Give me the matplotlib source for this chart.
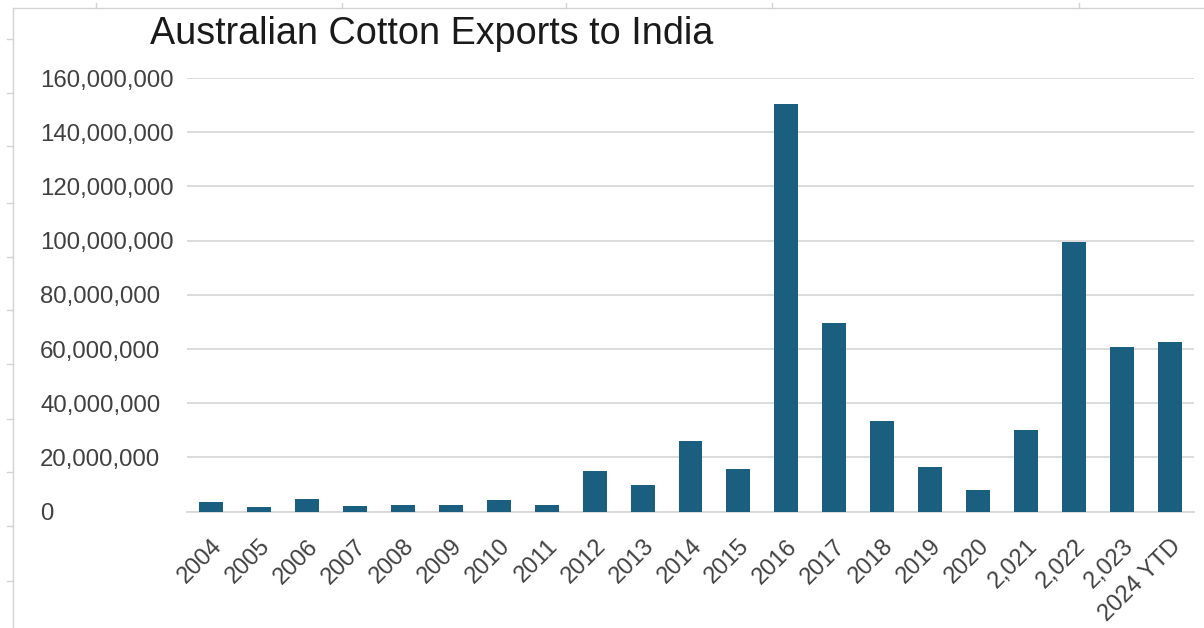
import matplotlib.pyplot as plt
from matplotlib.lines import Line2D
from matplotlib.ticker import StrMethodFormatter

# data
years = ["2004", "2005", "2006", "2007", "2008", "2009", "2010", "2011",
         "2012", "2013", "2014", "2015", "2016", "2017", "2018", "2019",
         "2020", "2,021", "2,022", "2,023", "2024 YTD"]
exports = [3.6e6, 1.7e6, 4.6e6, 2.0e6, 2.6e6, 2.6e6, 4.3e6, 2.5e6,
           15.1e6, 9.7e6, 26.2e6, 15.8e6, 150.4e6, 69.6e6, 33.5e6, 16.4e6,
           8.0e6, 30.1e6, 99.6e6, 60.8e6, 62.6e6]
y_ticks = list(range(0, 160000001, 20000000))

plt.rcParams['font.family'] = ['Liberation Sans', 'DejaVu Sans']

W, H = 1204, 628
fig = plt.figure(figsize=(W / 100, H / 100), dpi=100)
ax = fig.add_axes([187 / W, 1 - 511.7 / H, 1007 / W, 433.7 / H])

x = range(len(years))
ax.bar(x, exports, width=0.5, color='#1a5e80', zorder=3)
ax.set_xlim(-0.5, len(years) - 0.5)
ax.set_ylim(0, 160e6)

ax.set_yticks(y_ticks)
ax.yaxis.set_major_formatter(StrMethodFormatter('{x:,.0f}'))
ax.grid(axis='y', color='#d9d9d9', lw=1.3, zorder=0)
for name, s in ax.spines.items():
    s.set_visible(name == 'bottom')
ax.spines['bottom'].set_color('#d9d9d9')
ax.spines['bottom'].set_linewidth(1.3)

ax.tick_params(axis='y', length=0, pad=105.8, labelsize=17.3, labelcolor='#404040')
for lbl in ax.get_yticklabels():
    lbl.set_horizontalalignment('left')

ax.set_xticks(list(x))
ax.set_xticklabels(years, rotation=45, ha='right', va='top', rotation_mode='anchor')
ax.tick_params(axis='x', length=0, pad=17, labelsize=17, labelcolor='#404040')

fig.text(150 / W, 1 - 34 / H, "Australian Cotton Exports to India",
         fontsize=27.2, color='#1a1a1a', va='center', ha='left')

# spreadsheet cell border around the chart
edge = '#d3d3d3'
fig.add_artist(Line2D([13 / W, 1], [1 - 8 / H] * 2, transform=fig.transFigure, color=edge, lw=1))
fig.add_artist(Line2D([13 / W] * 2, [1 - 8 / H, 0], transform=fig.transFigure, color=edge, lw=1))
for tx in [96, 342, 566, 772, 1079]:
    fig.add_artist(Line2D([tx / W] * 2, [1 - 3 / H, 1 - 8 / H], transform=fig.transFigure, color=edge, lw=1))
for ty in [39, 93, 146, 203, 257, 310, 364, 419, 472, 526, 581]:
    fig.add_artist(Line2D([7 / W, 13 / W], [1 - ty / H] * 2, transform=fig.transFigure, color=edge, lw=1))

fig.savefig("out.png", dpi=100, facecolor='white')
